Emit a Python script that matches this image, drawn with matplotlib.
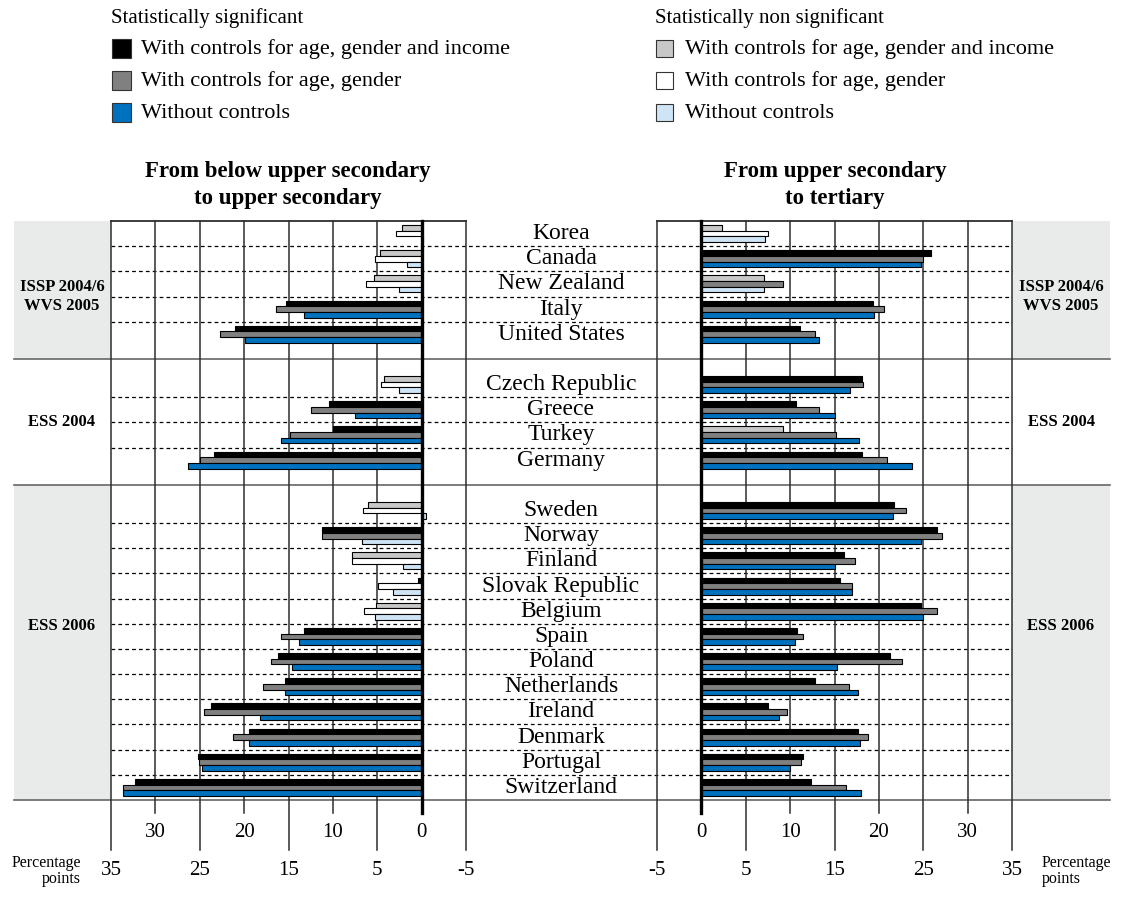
import numpy as np
import matplotlib.pyplot as plt
from matplotlib.patches import Rectangle

plt.rcParams['font.family'] = ['Liberation Serif', 'DejaVu Serif']

# countries grouped by survey, top to bottom
countries = ["Korea", "Canada", "New Zealand", "Italy", "United States",
             "Czech Republic", "Greece", "Turkey", "Germany",
             "Sweden", "Norway", "Finland", "Slovak Republic", "Belgium", "Spain",
             "Poland", "Netherlands", "Ireland", "Denmark", "Portugal", "Switzerland"]
surveys = ["ISSP 2004/6\nWVS 2005", "ESS 2004", "ESS 2006"]
survey_sizes = [5, 4, 12]

# from below upper secondary to upper secondary
low_inc = [2.2, 4.7, 5.4, 15.3, 21.0, 4.2, 10.4, 10.0, 23.4, 6.0, 11.2, 7.9, 0.4,
           5.1, 13.2, 16.2, 15.4, 23.7, 19.4, 25.2, 32.3]
low_age = [2.9, 5.2, 6.3, 16.4, 22.7, 4.6, 12.5, 14.8, 25.0, 6.6, 11.2, 7.9, 4.9,
           6.5, 15.9, 17.0, 17.9, 24.5, 21.3, 25.1, 33.7]
low_raw = [-0.15, 1.7, 2.6, 13.3, 19.9, 2.5, 7.5, 15.9, 26.3, -0.5, 6.7, 2.1, 3.2,
           5.2, 13.8, 14.6, 15.4, 18.2, 19.5, 24.8, 33.6]
low_sig = ["nnn", "nnn", "nnn", "sss", "sss", "nnn", "sss", "sss", "sss", "nnn", "ssn",
           "nnn", "snn", "nnn", "sss", "sss", "sss", "sss", "sss", "sss", "sss"]

# from upper secondary to tertiary
ter_inc = [2.3, 25.9, 7.0, 19.3, 11.1, 18.1, 10.7, 9.2, 18.1, 21.7, 26.5, 16.1, 15.6,
           24.7, 10.8, 21.3, 12.8, 7.5, 17.6, 11.4, 12.4]
ter_age = [7.5, 25.0, 9.2, 20.6, 12.8, 18.2, 13.3, 15.2, 20.9, 23.1, 27.1, 17.3, 17.0,
           26.6, 11.4, 22.6, 16.6, 9.7, 18.8, 11.2, 16.3]
ter_raw = [7.2, 24.7, 7.1, 19.5, 13.2, 16.8, 15.1, 17.8, 23.7, 21.6, 24.7, 15.0, 17.0,
           25.0, 10.5, 15.3, 17.6, 8.7, 17.9, 10.0, 18.0]
ter_sig = ["nnn", "sss", "nsn", "sss", "sss", "sss", "sss", "nss", "sss", "sss", "sss",
           "sss", "sss", "sss", "sss", "sss", "sss", "sss", "sss", "sss", "sss"]

sig_colors = ["#000000", "#808080", "#0071bc"]
nonsig_colors = ["#c8c8c8", "#ffffff", "#cfe4f4"]
band_color = "#e9eaea"
grid_color = "#2e2e2e"

# row positions with one empty row between surveys
rows = []
groups = []
pos = 0
for n in survey_sizes:
    groups.append(list(range(pos, pos + n)))
    rows += list(range(pos, pos + n))
    pos += n + 1
rows = np.array(rows, dtype=float)
top = rows[0] - 0.5
bottom = rows[-1] + 0.5

W, H = 1122, 897
fig = plt.figure(figsize=(W / 100, H / 100), dpi=100)


def fig_rect(x0, x1, y0, y1):
    # pixel box -> figure fraction
    return [x0 / W, (H - y1) / H, (x1 - x0) / W, (y1 - y0) / H]


# background axes: bands, separators, country names
bg = fig.add_axes(fig_rect(14, 1110, 221, 800))
bg.set_xlim(14, 1110)
bg.set_ylim(bottom, top)
bg.axis('off')

bounds = [top]
for g1, g2 in zip(groups[:-1], groups[1:]):
    bounds.append((g1[-1] + g2[0]) / 2)
bounds.append(bottom)

for i, name in enumerate(surveys):
    y0, y1 = bounds[i], bounds[i + 1]
    if i != 1:
        bg.add_patch(Rectangle((14, y0), 97, y1 - y0, color=band_color, lw=0, zorder=0))
        bg.add_patch(Rectangle((1012, y0), 98, y1 - y0, color=band_color, lw=0, zorder=0))
    label_y = [2.5, 7.5, 15.6][i]
    bg.text(62, label_y, name, ha='center', va='center', fontsize=12,
            fontweight='bold', linespacing=1.2)
    bg.text(1061, label_y, name, ha='center', va='center', fontsize=12,
            fontweight='bold', linespacing=1.2)
    for a, b in zip(groups[i][:-1], groups[i][1:]):
        bg.plot([111, 1012], [(a + b) / 2] * 2, color='black', lw=0.9,
                linestyle=(0, (3, 2.5)), zorder=1)

for b in bounds[1:]:
    bg.plot([14, 1110], [b, b], color='#666666', lw=1.2, zorder=1, clip_on=False)

for y, name in zip(rows, countries):
    bg.text(561, y, name, ha='center', va='center', fontsize=17)


def draw_panel(ax, xlim, series, sigs):
    ax.set_xlim(*xlim)
    ax.set_ylim(bottom, top)
    ax.patch.set_alpha(0)
    for s in ['left', 'right', 'bottom']:
        ax.spines[s].set_visible(False)
    ax.spines['top'].set_linewidth(1.3)
    ax.spines['top'].set_color(grid_color)
    ax.set_xticks([])
    ax.set_yticks([])
    tr = ax.get_xaxis_transform()
    for v in range(-5, 40, 5):
        if v == 0:
            ax.plot([v, v], [1, -0.0225], transform=tr, color='black', lw=2.4,
                    clip_on=False, zorder=4)
            ax.text(v, -0.056, str(v), transform=tr, ha='center', va='center', fontsize=15)
        elif v % 10 == 0:
            ax.plot([v, v], [1, -0.0225], transform=tr, color=grid_color, lw=1.1,
                    clip_on=False, zorder=1)
            ax.text(v, -0.056, str(v), transform=tr, ha='center', va='center', fontsize=15)
        else:
            ax.plot([v, v], [1, -0.0864], transform=tr, color=grid_color, lw=1.1,
                    clip_on=False, zorder=1)
            ax.text(v, -0.121, str(v), transform=tr, ha='center', va='center', fontsize=15)
    h = 0.225
    for k, vals in enumerate(series):
        cols = [sig_colors[k] if s[k] == 's' else nonsig_colors[k] for s in sigs]
        ax.barh(rows + (k - 1) * h, vals, height=h, color=cols, edgecolor='black',
                linewidth=0.8, zorder=3)


axl = fig.add_axes(fig_rect(111, 466, 221, 800))
draw_panel(axl, (35, -5), [low_inc, low_age, low_raw], low_sig)
axr = fig.add_axes(fig_rect(657, 1012, 221, 800))
draw_panel(axr, (-5, 35), [ter_inc, ter_age, ter_raw], ter_sig)

# overlay in pixel coordinates for legend and titles
ov = fig.add_axes([0, 0, 1, 1])
ov.set_xlim(0, W)
ov.set_ylim(H, 0)
ov.axis('off')

ov.text(288, 185, "From below upper secondary\nto upper secondary", ha='center',
        va='center', fontsize=16.5, fontweight='bold', linespacing=1.4)
ov.text(835, 185, "From upper secondary\nto tertiary", ha='center',
        va='center', fontsize=16.5, fontweight='bold', linespacing=1.4)

entries = ["With controls for age, gender and income",
           "With controls for age, gender",
           "Without controls"]
for x0, head, cols, sq in [(111, "Statistically significant", sig_colors, 19),
                           (655, "Statistically non significant", nonsig_colors, 17)]:
    ov.text(x0, 18, head, ha='left', va='center', fontsize=15)
    for i, (lab, c) in enumerate(zip(entries, cols)):
        yc = 49 + i * 32
        ov.add_patch(Rectangle((x0 + 1, yc - sq / 2), sq, sq, facecolor=c,
                               edgecolor='#333333', lw=0.8))
        ov.text(x0 + 30, yc, lab, ha='left', va='center', fontsize=16)

ov.text(81, 871, "Percentage\npoints", ha='right', va='center', fontsize=11.5,
        multialignment='right', linespacing=1.0)
ov.text(1042, 871, "Percentage\npoints", ha='left', va='center', fontsize=11.5,
        multialignment='left', linespacing=1.0)

plt.savefig("out.png", dpi=100)
